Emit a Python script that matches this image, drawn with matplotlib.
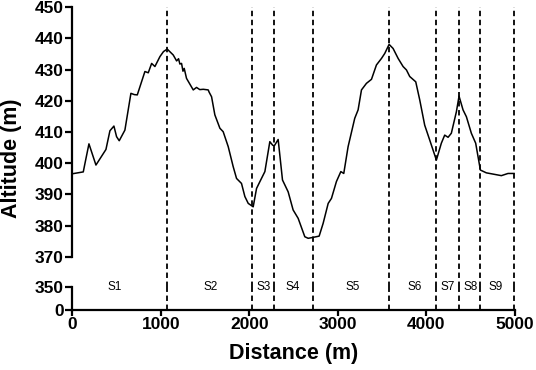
import matplotlib
matplotlib.use("Agg")
import matplotlib.pyplot as plt

plt.rcParams['font.family'] = ['Liberation Sans', 'DejaVu Sans']

distance = [0, 124, 140, 188, 267, 380, 425, 470, 500, 530, 594, 662, 700, 734, 820, 858, 896, 933,
            990, 1030, 1072, 1140, 1178, 1200, 1215, 1234, 1250, 1264, 1290, 1366, 1403, 1440,
            1479, 1535, 1545, 1573, 1610, 1667, 1704, 1761, 1817, 1855, 1911, 1949, 1987,
            2043, 2081, 2119, 2175, 2231, 2262, 2280, 2325, 2374, 2438, 2494, 2551, 2626,
            2664, 2720, 2788, 2833, 2890, 2927, 2983, 3033, 3066, 3115, 3190, 3228, 3266,
            3322, 3379, 3435, 3492, 3529, 3578, 3623, 3680, 3736, 3774, 3811, 3879, 3924,
            3980, 4037, 4112, 4168, 4206, 4244, 4281, 4338, 4368, 4413, 4451, 4507, 4556,
            4609, 4676, 4752, 4846, 4921, 4989]
altitude = [396.6, 397.2, 399.5, 406.2, 399.4, 404.4, 410.4, 411.9, 408.5, 407.2, 410.6, 422.4,
            422.0, 421.9, 429.4, 429.0, 432.0, 431.0, 434.2, 435.8, 436.6, 434.7, 432.8, 433.5,
            431.8, 432.0, 429.5, 430.4, 427.2, 423.5, 424.3, 423.6, 423.7, 423.5, 422.8, 421.3,
            415.5, 411.2, 410.1, 405.3, 398.9, 395.1, 393.5, 389.3, 387.1, 386.0, 391.9, 394.1,
            397.3, 406.9, 405.8, 405.5, 407.6, 394.6, 390.8, 385.0, 382.3, 376.4, 375.9,
            376.2, 376.6, 380.7, 387.1, 388.7, 394.1, 397.3, 396.7, 405.3, 414.4, 417.1,
            423.5, 425.6, 426.9, 431.5, 433.6, 435.2, 438.1, 436.8, 433.6, 431.0, 429.9,
            427.8, 426.1, 420.3, 412.2, 407.4, 401.0, 406.4, 409.0, 408.3, 409.6, 416.5,
            421.5, 417.1, 414.9, 409.6, 406.4, 397.8, 396.9, 396.5, 396.0, 396.7, 396.7]

boundaries = [1070, 2030, 2280, 2715, 3580, 4110, 4365, 4600, 4990]
segment_labels = ['S1', 'S2', 'S3', 'S4', 'S5', 'S6', 'S7', 'S8', 'S9']
label_x = [483, 1566, 2164, 2494, 3172, 3868, 4244, 4500, 4782]

W, H = 536, 370
fig = plt.figure(figsize=(W / 100, H / 100), dpi=100)

left = 72.3 / W
right = 515.0 / W
up_top, up_bot = 7.3, 256.7
lo_top, lo_bot = 286.7, 310.0

ax_up = fig.add_axes([left, 1 - up_bot / H, right - left, (up_bot - up_top) / H])
ax_lo = fig.add_axes([left, 1 - lo_bot / H, right - left, (lo_bot - lo_top) / H])

for ax in (ax_up, ax_lo):
    ax.set_xlim(0, 5000)
    ax.spines['top'].set_visible(False)
    ax.spines['right'].set_visible(False)
    ax.spines['left'].set_linewidth(1.6)
    ax.spines['bottom'].set_linewidth(1.6)
    ax.tick_params(axis='both', which='major', width=1.6, length=5, pad=1,
                   labelsize=12.5, direction='out')

ax_up.plot(distance, altitude, color='black', lw=1.1)
ax_up.set_ylim(370, 450)
ax_up.set_yticks(range(370, 451, 10))
ax_up.spines['bottom'].set_visible(False)
ax_up.tick_params(axis='x', which='both', bottom=False, labelbottom=False)

ax_lo.set_ylim(0, 350)
ax_lo.set_yticks([0, 350])
ax_lo.set_xticks(range(0, 5001, 1000))
ax_lo.tick_params(axis='x', length=4)

gap_frac = (lo_top - up_bot) / (up_bot - up_top)
for b in boundaries:
    ax_up.axvline(b, ymin=-gap_frac, ymax=1, color='black', lw=1.3,
                  ls=(0, (3, 2)), clip_on=False)
    ax_lo.axvline(b, ymin=0, ymax=1, color='black', lw=1.3, ls=(0, (3, 2)))

for lx, lab in zip(label_x, segment_labels):
    ax_lo.text(lx, 350, lab, ha='center', va='center', fontsize=8.5)

for ax in (ax_up, ax_lo):
    for lab in ax.get_yticklabels() + ax.get_xticklabels():
        lab.set_fontweight('bold')

fig.text(0.022, 1 - 158 / H, 'Altitude (m)', rotation=90, ha='center', va='center',
         fontsize=15.5, fontweight='bold')
fig.text((left + right) / 2, 1 - 354 / H, 'Distance (m)', ha='center', va='center',
         fontsize=15.5, fontweight='bold')

fig.savefig('out.png', dpi=100)
